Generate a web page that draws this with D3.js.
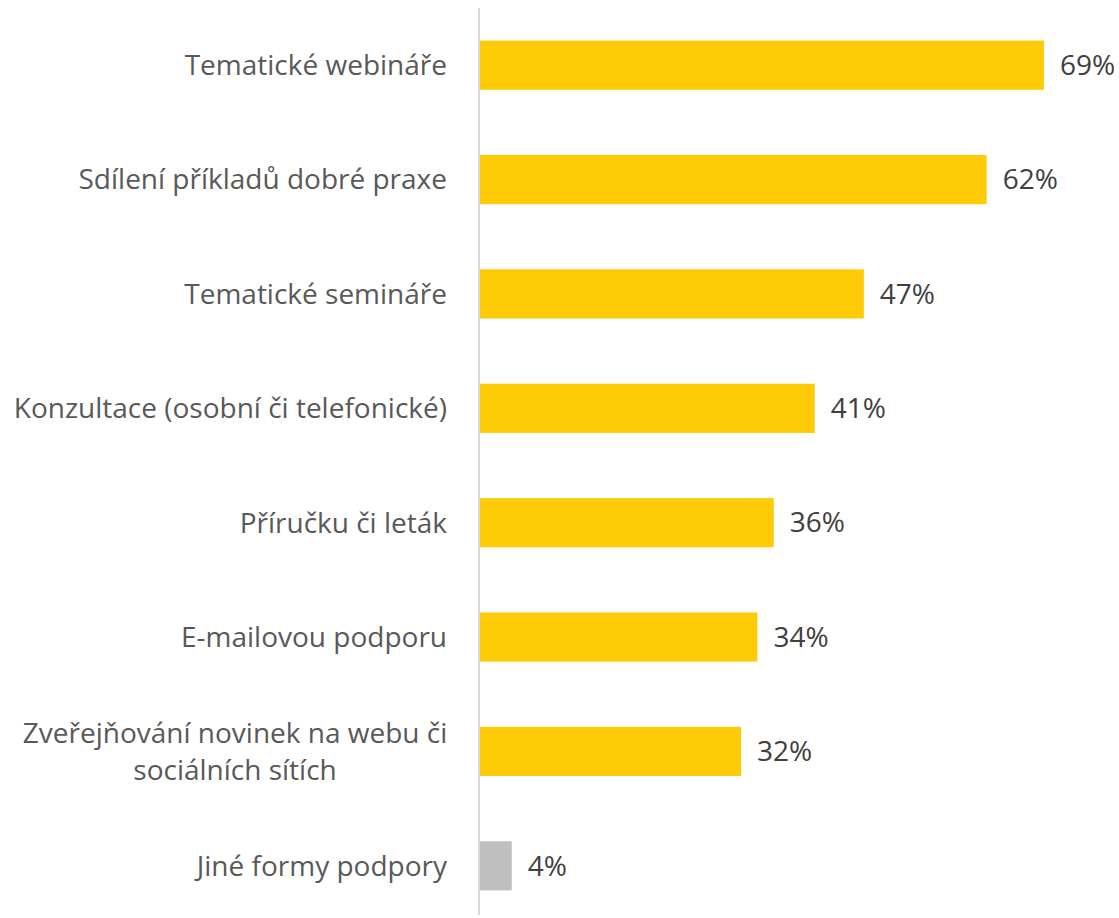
<!DOCTYPE html>
<html>
<head>
<meta charset="utf-8">
<script src="https://cdn.jsdelivr.net/npm/d3@7"></script>
<style>
  html, body { margin: 0; padding: 0; background: #fff; }
  svg { display: block; }
  text { font-family: "Open Sans", sans-serif; }
</style>
</head>
<body>
<svg id="chart" width="1119" height="918"></svg>
<script>
// Forms of support, share of respondents (%)
const categories = [
  "Tematické webináře",
  "Sdílení příkladů dobré praxe",
  "Tematické semináře",
  "Konzultace (osobní či telefonické)",
  "Příručku či leták",
  "E-mailovou podporu",
  "Zveřejňování novinek na webu či sociálních sítích",
  "Jiné formy podpory"
];
const values = [69, 62, 47, 41, 36, 34, 32, 4];
// Label lines when a category wraps
const labelLines = {
  "Zveřejňování novinek na webu či sociálních sítích": ["Zveřejňování novinek na webu či", "sociálních sítích"]
};
const highlightOther = "Jiné formy podpory";

const fontSize = 28;
const lineGap = 37;

const svg = d3.select("#chart");
const margin = { top: 8, left: 479 };
const bandHeight = 915;   // band layout extent
const axisHeight = 907;   // drawn length of the category axis line

const x = d3.scaleLinear().domain([0, 69]).range([0, 565]);
const y = d3.scaleBand().domain(categories).range([0, bandHeight]).paddingInner(0.57).paddingOuter(0.285);

const g = svg.append("g").attr("transform", `translate(${margin.left},${margin.top})`);

const data = categories.map((c, i) => ({ c, v: values[i] }));

g.selectAll("rect.bar").data(data).join("rect")
  .attr("class", "bar")
  .attr("x", 0)
  .attr("y", d => y(d.c))
  .attr("width", d => x(d.v))
  .attr("height", y.bandwidth())
  .attr("fill", d => d.c === highlightOther ? "#BFBFBF" : "#FFCA08");

// value labels
g.selectAll("text.val").data(data).join("text")
  .attr("class", "val")
  .attr("x", d => x(d.v) + 16)
  .attr("y", d => y(d.c) + y.bandwidth() / 2)
  .attr("dy", "0.35em")
  .attr("font-size", fontSize)
  .attr("fill", "#404040")
  .text(d => d.v + "%");

// category axis
const axis = g.append("g").call(d3.axisLeft(y).tickSize(0).tickPadding(32));
axis.select(".domain").attr("stroke", "#D9D9D9").attr("stroke-width", 2)
  .attr("d", `M0,0V${axisHeight}`);
axis.selectAll(".tick text").remove();
axis.selectAll(".tick").each(function(c) {
  const lines = labelLines[c] || [c];
  const multi = lines.length > 1;
  const t = d3.select(this).append("text")
    .attr("text-anchor", multi ? "middle" : "end")
    .attr("font-size", fontSize)
    .attr("fill", "#595959");
  lines.forEach((ln, i) => {
    t.append("tspan")
      .attr("x", multi ? -244 : -32)
      .attr("y", (i - (lines.length - 1) / 2) * lineGap)
      .attr("dy", "0.35em")
      .text(ln);
  });
});
</script>
</body>
</html>
